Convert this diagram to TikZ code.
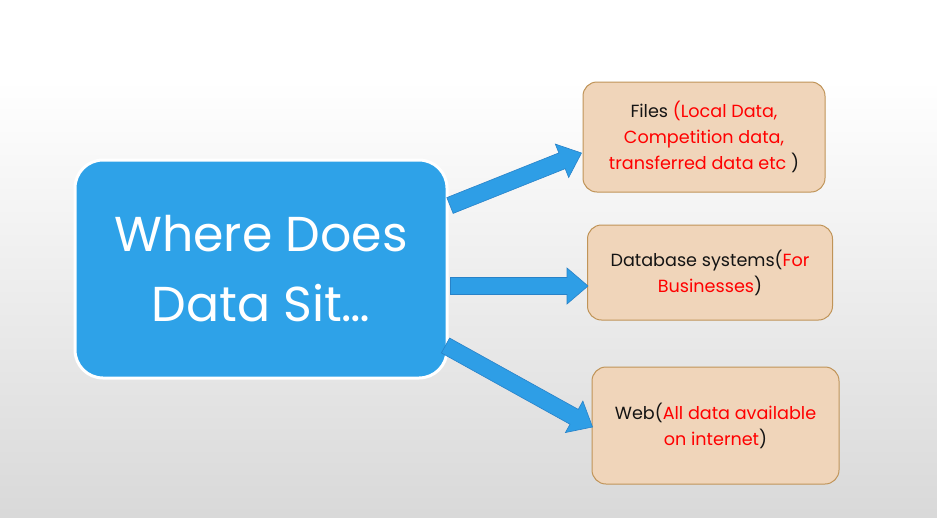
\documentclass[tikz,border=0pt]{standalone}
\usepackage{fontspec}
\setmainfont{Poppins}
\usetikzlibrary{calc}
\definecolor{mainblue}{RGB}{46,162,232}
\definecolor{arrowblue}{RGB}{46,158,230}
\definecolor{arrowedge}{RGB}{40,130,200}
\definecolor{boxfill}{RGB}{240,213,186}
\definecolor{boxedge}{RGB}{192,148,88}
\definecolor{txtred}{RGB}{255,0,0}
\definecolor{txtdark}{RGB}{20,20,20}
\tikzset{
  mainbox/.style={draw=white, line width=3pt, fill=mainblue, rounded corners=28pt,
    minimum width=372pt, minimum height=218pt, text=white, align=center,
    font=\fontsize{49}{70}\selectfont},
  databox/.style={draw=boxedge, line width=1pt, fill=boxfill, rounded corners=14pt,
    align=center, text=txtdark, font=\fontsize{17.6}{26}\selectfont, inner sep=0pt},
  blockarrow/.style={fill=arrowblue, draw=arrowedge, line width=0.6pt, line join=miter}
}
\newcommand\blockarrow[2]{%
  \path ($(#2)!21pt!(#1)$) coordinate (hb);
  \filldraw[blockarrow] ($(#1)!8.5pt!90:(#2)$) -- ($(hb)!8.5pt!90:(#2)$) --
    ($(hb)!18pt!90:(#2)$) -- (#2) -- ($(hb)!18pt!-90:(#2)$) --
    ($(hb)!8.5pt!-90:(#2)$) -- ($(#1)!8.5pt!-90:(#2)$) -- cycle;
}
\begin{document}
\begin{tikzpicture}[x=1pt,y=-1pt]
\useasboundingbox (0,0) rectangle (937,517);
\fill[white] (0,0) rectangle (937,80);
\shade[top color=white, bottom color=black!15] (0,80) rectangle (937,517);

\node[mainbox] (main) at (261,269) {Where Does\\Data Sit…};

\node[databox, minimum width=242pt, minimum height=110pt] (box1) at (704,137)
  {Files {\color{txtred}(Local Data,}\\{\color{txtred}Competition data,}\\{\color{txtred}transferred data etc} )};
\node[databox, minimum width=245pt, minimum height=95pt] (box2) at (710,272.5)
  {Database systems({\color{txtred}For}\\{\color{txtred}Businesses})};
\node[databox, minimum width=247pt, minimum height=117pt] (box3) at (715.5,425.5)
  {Web({\color{txtred}All data available}\\{\color{txtred}on internet})};

\coordinate (s1) at ($(main.north east)+(1.5,47)$);
\coordinate (e1) at ($(box1.west)+(-1,16)$);
\coordinate (s2) at ($(main.east)+(2,17)$);
\coordinate (e2) at ($(box2.west)+(1,13.5)$);
\coordinate (s3) at ($(main.south east)+(-3,-34)$);
\coordinate (e3) at ($(box3.west)+(1,1.5)$);
\blockarrow{s1}{e1}
\blockarrow{s2}{e2}
\blockarrow{s3}{e3}
\end{tikzpicture}
\end{document}
